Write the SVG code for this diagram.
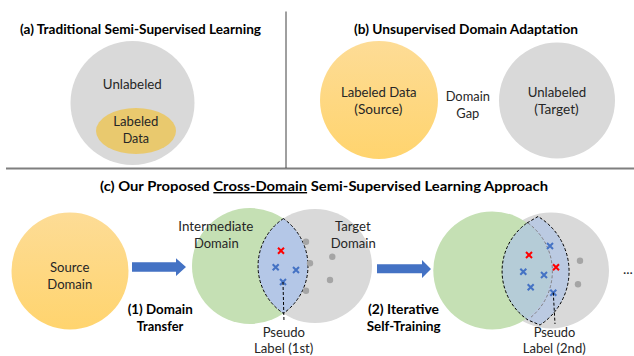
<svg xmlns="http://www.w3.org/2000/svg" width="634" height="356" viewBox="0 0 634 356">
<defs>
<linearGradient id="orange" x1="0" y1="0" x2="0" y2="1">
<stop offset="0" stop-color="#fddc96"/><stop offset="1" stop-color="#ffd46e"/>
</linearGradient>
<path id="x" d="M-3,-3 L3,3 M-3,3 L3,-3"/>
<style>
text{font-family:Lato,"Liberation Sans",sans-serif;font-size:14px;fill:#262626;text-anchor:middle}
.b{font-weight:bold;fill:#000}
.s{font-size:13.5px}
.gray{fill:#d9d9d9}
.green{fill:#c5e0b4}
.orange{fill:url(#orange)}
.dot{fill:#a5a5a5}
.xr{stroke:#ff0000;stroke-width:2;fill:none}
.xb{stroke:#4472c4;stroke-width:2;fill:none}
.dash{stroke:#000;stroke-width:1;stroke-dasharray:3 2;fill:none}
.arrow{fill:#4472c4}
.u{text-decoration:underline}
</style>
</defs>
<rect width="634" height="356" fill="#fff"/>

<g id="separators">
<line x1="6" y1="168.5" x2="634" y2="168.5" stroke="#7f7f7f" stroke-width="2"/>
<line x1="286" y1="11.5" x2="286" y2="168" stroke="#404040" stroke-width="1"/>
</g>

<g id="panel-a">
<text class="b" x="140.5" y="33.5" textLength="241" lengthAdjust="spacingAndGlyphs">(a) Traditional Semi-Supervised Learning</text>
<g id="a-unlabeled">
<circle class="gray" cx="132.5" cy="103" r="62"/>
<text x="132.3" y="89" textLength="59" lengthAdjust="spacingAndGlyphs">Unlabeled</text>
</g>
<g id="a-labeled">
<ellipse cx="136" cy="131" rx="40" ry="23" fill="#e9c96e"/>
<text x="135.8" y="125.7" textLength="45" lengthAdjust="spacingAndGlyphs">Labeled</text>
<text x="135.8" y="142.7" textLength="26.3" lengthAdjust="spacingAndGlyphs">Data</text>
</g>
</g>

<g id="panel-b">
<text class="b" x="466" y="33.5" textLength="224" lengthAdjust="spacingAndGlyphs">(b) Unsupervised Domain Adaptation</text>
<g id="b-source">
<circle class="orange" cx="379" cy="100" r="59"/>
<text x="378.8" y="96.7" textLength="75.7" lengthAdjust="spacingAndGlyphs">Labeled Data</text>
<text x="378.3" y="113.5" textLength="48" lengthAdjust="spacingAndGlyphs">(Source)</text>
</g>
<g id="b-gap">
<text x="467.8" y="101" textLength="44.3" lengthAdjust="spacingAndGlyphs">Domain</text>
<text x="467.8" y="118" textLength="23" lengthAdjust="spacingAndGlyphs">Gap</text>
</g>
<g id="b-target">
<circle class="gray" cx="557" cy="100.5" r="58"/>
<text x="557" y="97.3" textLength="58.6" lengthAdjust="spacingAndGlyphs">Unlabeled</text>
<text x="556.5" y="114.3" textLength="44.4" lengthAdjust="spacingAndGlyphs">(Target)</text>
</g>
</g>

<g id="panel-c">
<text class="b" x="324" y="191" textLength="448" lengthAdjust="spacingAndGlyphs">(c) Our Proposed <tspan class="u">Cross-Domain</tspan> Semi-Supervised Learning Approach</text>

<g id="c-source">
<circle class="orange" cx="70" cy="271" r="58.5"/>
<text x="69.7" y="272.3" textLength="39.3" lengthAdjust="spacingAndGlyphs">Source</text>
<text x="69.8" y="289.3" textLength="45" lengthAdjust="spacingAndGlyphs">Domain</text>
</g>

<g id="c-stage1">
<circle class="green" cx="250" cy="266" r="58"/>
<circle class="gray" cx="315" cy="266" r="57"/>
<path class="dash" style="fill:#b4c7e7" d="M283.4,218.6 A57,57 0 0 0 283.4,313.4 A58,58 0 0 0 283.4,218.6 Z"/>
<circle class="dot" cx="306" cy="241.7" r="3.2"/>
<circle class="dot" cx="310" cy="263.3" r="3.2"/>
<circle class="dot" cx="306" cy="290.7" r="3.2"/>
<circle class="dot" cx="332.3" cy="256.7" r="3.2"/>
<circle class="dot" cx="330" cy="280" r="3.2"/>
<use href="#x" class="xr" x="281" y="250.7"/>
<use href="#x" class="xb" x="275.7" y="267.3"/>
<use href="#x" class="xb" x="296" y="270"/>
<use href="#x" class="xb" x="283" y="282"/>
<text x="215.8" y="231.3" textLength="75" lengthAdjust="spacingAndGlyphs">Intermediate</text>
<text x="216.3" y="248" textLength="44.7" lengthAdjust="spacingAndGlyphs">Domain</text>
<text x="352.8" y="231.3" textLength="35.7" lengthAdjust="spacingAndGlyphs">Target</text>
<text x="353.2" y="248" textLength="45" lengthAdjust="spacingAndGlyphs">Domain</text>
<text class="s" x="283.8" y="337" textLength="42.3" lengthAdjust="spacingAndGlyphs">Pseudo</text>
<text class="s" x="283.7" y="353" textLength="59.3" lengthAdjust="spacingAndGlyphs">Label (1st)</text>
</g>

<g id="c-stage2">
<circle class="gray" cx="551" cy="270.5" r="58"/>
<circle class="green" cx="492.3" cy="270.5" r="59"/>
<path class="dash" style="fill:#aec3e6;fill-opacity:0.7" d="M527,223 L538,216.5 A64,64 0 0 1 540,325 L528,320 A59,59 0 0 1 527,223 Z"/>
<path d="M528,223 A60,60 0 0 1 530,318" fill="none" stroke="#808080" stroke-width="1" stroke-dasharray="3 2"/>
<circle class="dot" cx="580" cy="260.7" r="3.2"/>
<circle class="dot" cx="578" cy="284.3" r="3.2"/>
<use href="#x" class="xr" x="529" y="255"/>
<use href="#x" class="xr" x="556" y="267.3"/>
<use href="#x" class="xb" x="550" y="246"/>
<use href="#x" class="xb" x="523.3" y="271.7"/>
<use href="#x" class="xb" x="544" y="275"/>
<use href="#x" class="xb" x="530.7" y="287.3"/>
<use href="#x" class="xb" x="553.3" y="292.7"/>
<text class="s" x="554.5" y="337" textLength="41.5" lengthAdjust="spacingAndGlyphs">Pseudo</text>
<text class="s" x="554.2" y="353" textLength="63" lengthAdjust="spacingAndGlyphs">Label (2nd)</text>
</g>

<g id="c-more">
<text x="623" y="274" style="text-anchor:start">...</text>
</g>

<g id="step1-label">
<text class="b" x="160.2" y="314" textLength="65" lengthAdjust="spacingAndGlyphs">(1) Domain</text>
<text class="b" x="160" y="331.3" textLength="46.6" lengthAdjust="spacingAndGlyphs">Transfer</text>
</g>
<g id="step2-label">
<text class="b" x="403.5" y="314" textLength="71" lengthAdjust="spacingAndGlyphs">(2) Iterative</text>
<text class="b" x="403.7" y="331.3" textLength="74" lengthAdjust="spacingAndGlyphs">Self-Training</text>
</g>
</g>

<g id="connectors">
<polygon class="arrow" points="132,262.3 176,262.3 176,258.3 186,267 176,276 176,271.7 132,271.7"/>
<polygon class="arrow" points="377,264.3 422,264.3 422,260 431,269 422,278 422,273.3 377,273.3"/>
<line class="dash" x1="283" y1="282" x2="284" y2="322"/>
<line class="dash" x1="553.3" y1="292.7" x2="555" y2="324"/>
</g>
</svg>
